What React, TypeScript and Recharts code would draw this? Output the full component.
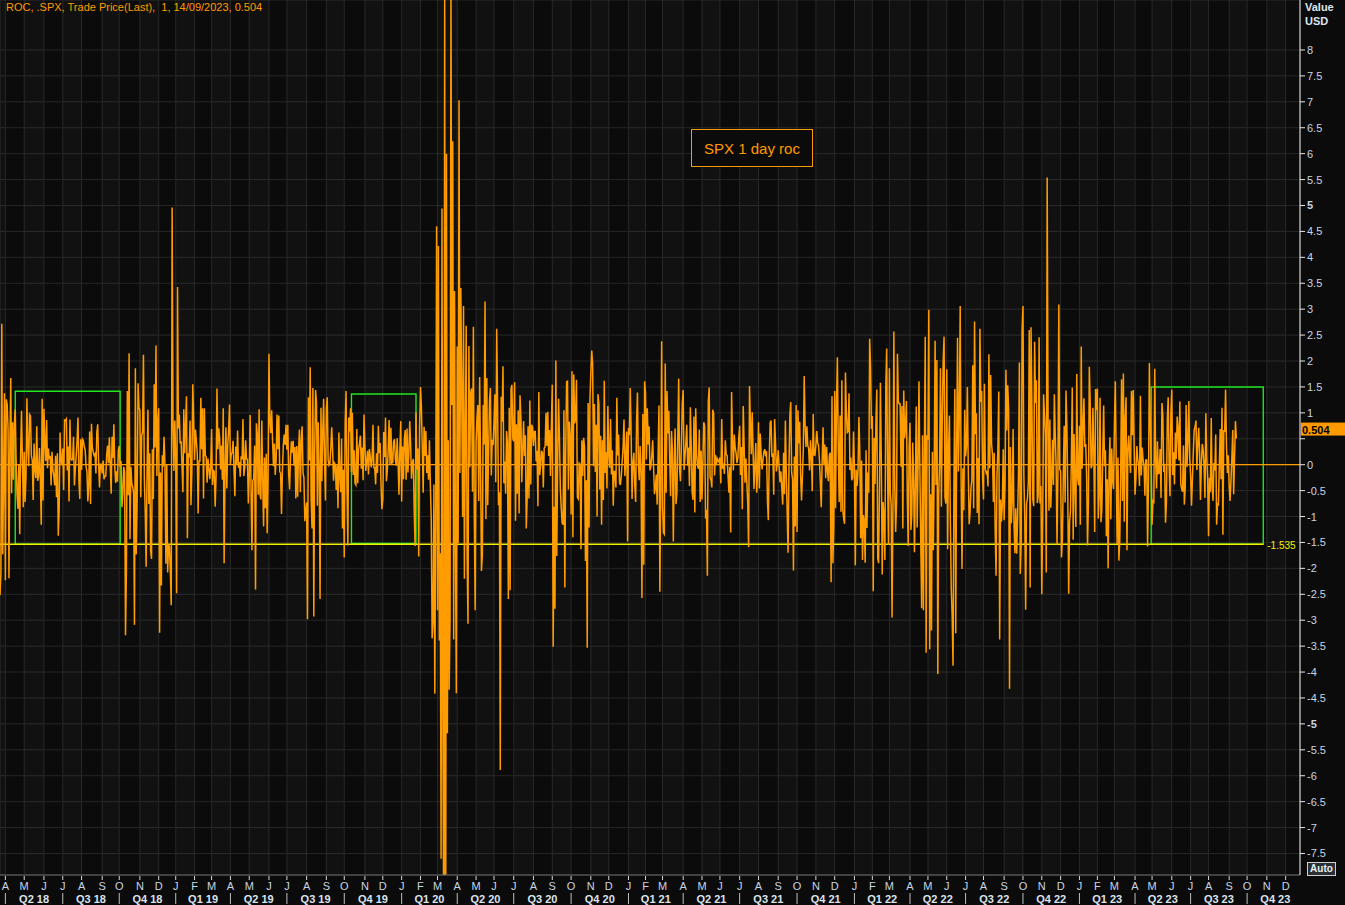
import React from 'react';
import {
  LineChart,
  Line,
  XAxis,
  YAxis,
  CartesianGrid,
  ReferenceLine,
  ReferenceArea,
  ReferenceDot,
} from 'recharts';

// Daily 1-day ROC (%) of .SPX, one inner array per month (trading days)
const r2018: number[][] = [
  [-2.52, -2.1, 2.72, -1.73, -0.29, 1.38],
  [-2.23, 1.26, 1.16, 0.69, -2.19, 0.33, 1.67, -0.55, 0.82, -0.29, 0.81, 1.07, 0.08, -0.57, -0.85, 0.01, -1.34, 0.18, 1.04, 0.11, -0.82],
  [0.25, -0.72, -0.23, 1.28, 0.35, -0.03, 0.97, 0.94, 0.17, 0.09, -0.68, 0.41, -0.09, -0.26, 0.74, -0.31, -0.22, 0.32, -0.24, -1.16, 1.27, -0.69],
  [1.08, 0.45, 0.07, 0.86, -0.07, 0.31, 0.11, 0.17, -0.4, 0.25, -0.1, -0.21, -0.4, 0.17, -0.63, 0.22, -1.37, -0.86, 0.62, 0.08, -0.01],
  [0.31, -0.49, 0.86, 0.85, 0.88, -0.11, 0.35, -0.71, 0.87, 0.11, 0.09, 0.1, 0.54, -0.4, -0.09, 0.18, 0.48, 0.91, -0.3, -0.66, 0.49],
  [-0.1, 0.49, 0.46, 0.35, 0.28, -0.03, -0.14, -0.71, -0.4, 0.64, -0.76, 0.79, 0.33, 0.24, 0.18, 0.21, -0.17, 0.62, 0.78, 0.03, -0.44, 0.01, 0.01],
  [-0.17, 0.08, -0.28, -0.22, -0.22, 0.19, 0.37, 0.03, 0.53, -0.03, -0.56, 0.54, 0.13, 0.78, -0.04, -0.35, -0.13, -0.33, 0.28],
  [0.36, -0.04, 0.07, -0.82, -0.55, -0.04, -0.14, -3.29, -2.06, 1.42, -0.59, 2.15, -1.44, -0.04, -0.36, -0.43, -0.55, -3.09, 1.86, -1.73, -0.66, 1.57, 1.09],
  [1.06, -0.63, 0.56, 0.63, 2.12, -0.25, -0.92, -1.97, -0.15, 1.06, -0.76, 0.22, -1.66, -1.82, 0.3, -0.66, 1.55, 0.33, 2.3, -0.22, 0.82],
  [1.09, -3.24, -0.15, -2.33, 0.18, -0.04, 0.54, -0.02, -1.91, 0.01, -2.08, -1.54, -1.58, -2.06, -2.71, 4.96, 0.86, -0.12, 0.85],
];

const r2019: number[][] = [
  [0.13, -2.48, 3.43, 0.7, 0.97, 0.41, 0.45, -0.01, -0.53, 1.07, 0.22, 0.76, 1.32, -1.42, 0.22, 0.14, 0.85, -0.78, -0.15, 1.55, 0.86],
  [0.09, 0.68, 0.47, 0.22, -0.94, 0.07, 0.07, 1.29, 0.3, 1.09, -0.65, 1.09, 0.18, 0.15, -0.35, 0.12, -0.08, -0.28, -0.05],
  [0.69, -0.39, -0.11, -0.13, -0.81, -0.21, 1.47, 0.3, 0.7, 0.5, -0.09, 0.37, -0.29, 1.09, -1.9, -0.08, 0.72, -0.46, 0.36, 0.67, 1.16],
  [0.01, 0.21, 0.23, 0.46, -0.11, -0.61, 0.35, 0.0, 0.66, -0.06, 0.05, -0.23, 0.16, 0.1, 0.88, -0.22, -0.04, 0.47, 0.11, 0.1, -0.75],
  [-0.21, 0.96, -0.45, -1.65, -0.3, -0.28, 0.37, -2.41, 0.8, 0.58, -0.58, 1.07, -0.58, -0.67, 0.85, -0.28, -1.19, 0.14, -0.84, 0.21, -1.32, -0.28],
  [2.14, 0.82, 0.61, 1.05, 0.47, -0.03, 0.41, -0.2, 0.09, 0.97, 0.3, 0.95, -0.13, -0.17, -0.95, -0.12, 0.38, 0.58, 0.38, 0.77],
  [0.29, 0.77, -0.18, -0.48, 0.12, 0.45, 0.23, 0.46, -0.02, 0.34, -0.65, 0.36, -0.62, 0.28, 0.68, -0.53, 0.47, 0.74, -0.16, -0.26, -1.09, -0.9],
  [-0.73, -2.98, 1.3, 0.08, 1.88, -0.66, -1.23, 1.48, -2.93, 0.25, 1.44, 1.21, -0.79, 0.82, -0.05, -2.59, 1.1, -0.32, 0.65, 1.27, 0.06, -0.69],
  [1.08, 1.3, 0.09, -0.01, 0.03, 0.32, 0.72, 0.29, -0.31, 0.03, 0.0, -0.49, -0.01, -0.84, 0.62, -0.24, -0.53, 0.5, -1.23, -0.1],
  [-1.79, 0.8, 1.42, -0.45, -1.56, 0.91, 0.64, 1.09, -0.14, 1.0, -0.2, 0.28, -0.36, -0.39, 0.69, -0.36, 0.3, 0.41, 0.56, -0.08, 0.33, -0.3, 0.97],
  [0.37, -0.12, 0.07, 0.27, -0.19, 0.3, 0.16, -0.05, 0.08, 0.77, -0.06, -0.06, -0.38, 0.22, -0.16, 0.75, 0.22, 0.42, -0.4, -0.86],
  [-0.66, 0.63, 0.15, 0.91, -0.32, -0.11, 0.29, 0.86, 0.01, 0.71, 0.03, 0.04, 0.45, 0.49, 0.09, -0.02, 0.51, 0.03, -0.58, 0.29, 0.84],
];

const r2020: number[][] = [
  [-0.71, 0.35, -0.28, 0.49, 0.67, -0.29, 0.7, -0.15, 0.19, 0.84, 0.39, -0.27, 0.03, 0.11, -0.9, -1.57, 1.01, -0.09, 0.31, -1.77, 0.73],
  [1.5, 1.13, 0.33, -0.54, 0.73, 0.17, 0.65, -0.16, 0.18, -0.29, 0.47, -0.38, -1.05, -3.35, -3.03, -0.38, -4.42, -0.82, 4.6],
  [-2.81, 4.22, -3.39, -1.71, -7.6, 4.94, -4.89, -9.51, 9.29, -11.98, 6.0, -5.18, 0.47, -4.34, -2.93, 9.38, 1.15, 6.24, -3.37, 3.35, -1.6, -4.41],
  [2.28, -1.51, 7.03, -0.16, 3.41, 1.45, -1.01, 3.06, -2.2, 0.58, 2.68, -1.79, -3.07, 2.29, -0.05, 1.39, 1.47, -0.52, 2.66, -0.92, -2.81],
  [0.42, 0.9, 1.15, -0.7, 1.69, 0.02, -2.05, -1.75, 1.15, 0.39, 3.15, -1.05, 1.67, -0.78, 0.24, 1.23, 1.48, -0.21, 0.48, 0.38],
  [0.82, 1.36, -0.34, 2.62, 1.2, -0.78, -0.53, -5.89, 1.31, 0.83, 1.9, -0.36, 0.06, -0.56, 0.65, 0.43, -2.59, 1.1, -2.42, 1.47, 1.54, 0.5],
  [0.45, 1.59, -1.08, 0.78, -0.56, 1.05, -0.94, 1.34, 0.91, -0.34, 0.28, 0.84, 0.17, 0.57, -1.23, -0.62, 0.74, -0.65, 1.24, -0.38, 0.77, 0.72],
  [0.36, 0.64, 0.64, 0.06, 0.27, -0.8, 1.4, -0.2, -0.02, 0.27, 0.23, -0.44, 0.32, 0.34, 1.0, 0.36, 1.02, 0.17, 0.67, -0.22, 0.75],
  [1.54, -3.51, -0.81, -2.78, 2.01, -1.76, 0.05, 1.27, 0.52, -0.46, -0.84, -1.12, -1.16, 1.05, -2.37, 0.3, 1.6, 1.61, -0.48, 0.83, 0.53],
  [-0.96, 1.8, -1.4, 1.74, 0.8, 0.88, 1.64, -0.63, -0.66, 0.03, 0.01, -1.63, 0.47, -0.22, 0.52, 0.34, -1.86, -0.3, -3.53, 1.19, -1.21, 1.23],
  [1.78, 2.2, 1.95, -0.03, 1.17, -0.14, 0.77, -1.0, 1.36, 1.16, -0.48, 0.56, -1.16, 0.47, -0.68, 1.62, -0.16, 0.24, -0.46, 1.13],
  [0.18, -0.06, 0.88, -0.19, 0.28, -0.79, -0.13, -0.13, -0.44, 1.29, 0.18, 0.58, -0.35, -0.39, -0.21, 0.07, 0.35, 0.87, -0.22, 0.13, 0.64, -1.48],
];

const r2021: number[][] = [
  [0.71, 0.57, 1.48, 0.55, -0.66, 0.04, 0.23, -0.38, -0.72, 0.81, 1.39, 0.03, -0.3, 0.36, -0.15, -2.57, 0.98, -1.93, 1.61],
  [1.39, 0.1, 1.09, 0.39, 0.74, -0.11, -0.03, 0.17, 0.47, -0.06, -0.57, -0.44, -0.19, -0.77, 0.13, 1.14, -2.45, -0.48, 2.38],
  [-0.81, -1.31, -1.34, 1.95, -0.54, 1.42, 0.6, 1.04, 0.1, -0.61, 0.65, 0.29, -1.48, -0.06, 0.7, -0.76, -0.55, 0.52, 1.66, -0.09, -0.32, 0.36, 1.18],
  [1.44, -0.1, 0.15, 0.42, 0.77, -0.02, 0.33, -0.41, 1.11, 0.36, -0.53, -0.68, 0.93, -0.92, 1.09, 0.18, -0.02, -0.08, 0.68, -0.72, 0.27],
  [-0.67, 0.07, 0.82, 0.74, -1.04, -0.87, -2.14, 1.22, 1.49, -0.25, -0.29, -0.44, 1.06, 0.99, -0.21, 0.19, -0.01, 0.12, 0.08, 0.05],
  [0.14, -0.36, 0.88, -0.08, 0.02, -0.18, 0.47, 0.19, 0.18, -0.2, -0.54, -0.04, -1.31, 1.4, 0.51, -0.11, 0.58, 0.33, 0.23, 0.03, 0.13, 0.52],
  [0.75, -0.2, 0.34, -0.86, 1.13, 0.35, -0.35, 0.12, -0.33, -0.75, -1.59, 1.52, 0.82, 0.2, 1.01, 0.24, -0.47, -0.02, 0.42, -0.54, -0.18],
  [0.82, -0.46, 0.6, 0.17, -0.09, 0.1, 0.25, 0.3, 0.16, 0.26, -0.71, -1.07, 0.13, 0.81, 0.85, 0.15, 0.22, -0.58, 0.88, 0.43, -0.13, 0.03],
  [0.28, -0.03, -0.34, -0.13, -0.46, -0.77, 0.23, -0.57, 0.85, -0.16, -0.91, -1.7, -0.08, 0.95, 1.21, -0.15, -0.28, -2.04, 0.16, -1.19, 1.15],
  [-1.3, 1.05, 0.41, 0.83, -0.19, -0.69, -0.24, 0.3, 1.71, 0.75, 0.34, 0.74, 0.37, 0.3, -0.11, 0.47, 0.18, -0.51, 0.98, 0.19, 0.18],
  [0.37, 0.65, 0.42, 0.37, 0.09, -0.35, -0.82, 0.06, 0.72, 0.0, 0.39, -0.26, 0.34, -0.14, -0.32, 0.17, 0.23, -2.27, 1.32, -1.9, -1.18],
  [1.42, -0.84, 1.17, 2.07, 0.31, -0.72, 0.95, -0.91, 1.63, -0.87, -1.03, -1.14, 1.78, 1.02, 0.62, 0.64, 1.38, -0.1, 0.14, -0.3, -0.26, 0.64],
];

const r2022: number[][] = [
  [-0.06, -1.94, -0.1, -0.41, -0.14, 0.92, 0.28, -1.42, 0.08, -1.84, -0.97, -1.1, -1.89, 0.28, -1.22, -0.15, -0.54, 2.43, 1.89, 0.69],
  [0.94, -2.44, 0.52, -0.37, 0.84, 1.45, -1.81, -1.9, -0.38, 1.58, 0.09, -2.12, -0.72, -1.01, -1.84, 1.5, 2.24, -0.24, -1.55],
  [1.86, -0.53, -0.79, -2.95, -0.72, 2.57, -0.43, -1.3, -0.74, 2.14, 1.23, 1.17, 1.17, -0.04, 1.13, -1.23, 1.43, 0.51, 0.71, 1.23, -0.63, -1.57, 0.34],
  [0.81, -1.26, -0.97, 0.43, -0.27, -1.69, -0.34, 1.12, -1.21, -0.02, 1.61, -0.06, -1.48, -2.77, 0.57, -2.81, 0.21, 2.47, -3.63, 0.57],
  [0.48, 2.99, -3.56, -0.57, -3.2, 0.25, -1.65, -0.13, 2.39, -0.39, 2.02, -4.04, -0.58, 0.01, 1.86, -0.81, 0.95, 1.99, 2.47, -0.63, -0.75],
  [1.84, -1.63, 0.31, 0.95, -1.08, -2.38, -2.91, -3.88, -0.38, 1.46, -3.25, 0.22, 2.45, -0.13, 0.95, 3.06, -0.3, -2.01, -0.07, -0.88, 1.06],
  [0.16, 0.36, 1.5, -0.08, -1.15, -0.92, -0.45, -0.3, 1.92, -0.84, 2.76, 0.59, 0.99, -0.93, 0.13, -1.15, 2.62, 1.21, 1.42, -0.28],
  [-0.67, 1.56, -0.08, -0.16, -0.12, -0.42, 2.13, -0.07, 1.73, 0.4, 0.19, -0.72, 0.23, -1.29, -2.14, -0.22, 0.29, 1.41, -3.37, -0.67, -1.1, -0.78, 0.3],
  [-1.07, -0.41, 1.83, 0.66, 1.53, 1.06, -4.32, 0.34, -1.13, -0.72, 0.69, -1.13, -1.71, -0.84, -1.72, -1.03, -0.21, 1.97, -2.11, -1.51, 2.59],
  [3.06, -0.2, -1.02, -2.8, -0.75, -0.65, -0.33, 2.6, -2.37, 2.65, 1.14, -0.67, -0.8, 2.37, 1.19, 1.63, -0.74, -0.61, 2.46, -0.75, -0.41],
  [-2.5, -1.06, 1.36, 0.96, 0.56, -2.08, 5.54, 0.92, -0.89, 0.87, -0.83, -0.31, 0.48, -0.39, 1.36, 0.59, -0.03, -1.54, -0.16, 3.09, -0.09],
  [-0.12, -1.79, -1.44, -0.19, 0.75, -0.73, 1.43, 0.73, -0.61, -2.49, -1.11, -0.9, 0.1, 1.49, -1.45, 0.59, -0.4, -1.2, 1.75, -0.25, -0.4],
];

const r2023: number[][] = [
  [0.75, -1.16, 2.28, -0.08, 0.7, 1.28, 0.34, 0.4, -0.2, -1.56, -0.76, 1.89, 1.19, -0.07, -0.02, 1.1, 0.25, -1.3, 1.46, 1.05],
  [1.47, -1.04, -0.61, 1.29, -1.11, -0.88, 0.22, 1.14, -0.03, 0.28, -1.38, -0.28, -2.0, -0.16, 0.53, -1.05, 0.31, -0.3, -0.47],
  [0.76, 1.61, 0.07, -1.53, 0.14, -1.85, -1.45, -0.15, 1.65, -0.7, 1.76, -1.1, 0.89, 1.3, -1.65, 0.3, 0.56, 0.17, -0.16, 1.42, 0.57, 1.44, 0.37],
  [-0.58, -0.25, 0.36, 0.1, -0.0, -0.41, 1.33, -0.21, 0.33, 0.09, -0.01, -0.6, 0.09, 0.09, -1.58, -0.38, 1.96, 0.83, -0.04],
  [-1.16, -0.7, -0.72, 1.85, 0.05, -0.46, 0.45, -0.17, -0.16, 0.3, -0.64, 1.19, 0.94, -0.14, 0.02, -1.12, -0.73, 0.88, 1.3, 0.0, -0.61, 0.99],
  [1.45, -0.2, 0.24, -0.38, 0.62, 0.11, 0.93, 0.69, 0.08, 1.22, -0.37, -0.47, -0.52, 0.37, -0.77, -0.45, 1.15, -0.04, 0.45, 1.23, 0.12],
  [-0.2, -0.79, -0.29, 0.24, 0.67, 0.74, 0.85, -0.1, 0.39, 0.71, 0.24, -0.68, 0.03, 0.4, 0.28, -0.02, -0.64, 0.99, 0.15, -0.27],
  [-1.38, -0.25, -0.53, 0.9, -0.42, -0.7, 0.03, -0.11, 0.58, -1.16, -0.76, -0.77, -0.01, 0.69, -0.28, 1.1, -1.35, 0.67, 0.63, 1.45, 0.38, -0.16, 0.18],
  [-0.42, -0.7, -0.32, 0.14, 0.67, -0.57, 0.12, 0.84, 0.504],
];

// Trading days per calendar month, from Mar 2018 (partial, from 22 Mar) to Dec 2023
const monthLengths = [
  6, 21, 22, 21, 21, 23, 19, 23, 21, 19,
  21, 19, 21, 21, 22, 20, 22, 22, 20, 23, 20, 21,
  21, 19, 22, 21, 20, 22, 22, 21, 21, 22, 20, 22,
  19, 19, 23, 21, 20, 22, 21, 22, 21, 21, 21, 22,
  20, 19, 23, 20, 21, 21, 20, 23, 21, 21, 21, 21,
  20, 19, 23, 19, 22, 21, 20, 23, 20, 22, 21, 20,
];
const START_MONTH = 2; // March
const START_YEAR = 2018;
const MONTH_LETTERS = ['J', 'F', 'M', 'A', 'M', 'J', 'J', 'A', 'S', 'O', 'N', 'D'];

const yTicks = [
  -7.5, -7, -6.5, -6, -5.5, -5, -4.5, -4, -3.5, -3, -2.5, -2, -1.5, -1, -0.5, 0,
  0.5, 1, 1.5, 2, 2.5, 3, 3.5, 4, 4.5, 5, 5.5, 6, 6.5, 7, 7.5, 8,
];
// tick labels hidden behind the last-value badge
const hiddenYLabels = [0.5];

// Annotations drawn on the chart (in data units: trading-day index, %)
const boxes = [
  { x1: 17, x2: 134, y1: -1.535, y2: 1.416 },
  { x1: 392, x2: 464, y1: -1.52, y2: 1.364 },
  { x1: 1284, x2: 1409, y1: -1.535, y2: 1.5 },
];
const supportLevel = -1.535;
const supportEnd = 1409;
const lastValue = 0.504;

const X_MAX = 1450;
const Y_MIN = -7.915;
const Y_MAX = 8.964;

const roc = [...r2018, ...r2019, ...r2020, ...r2021, ...r2022, ...r2023].flat();
const data = roc.map((v, i) => ({ i, v }));

type MonthInfo = { idx: number; month: number; year: number; len: number };
const allMonths: MonthInfo[] = [];
{
  let acc = 0;
  monthLengths.forEach((len, k) => {
    const m = (START_MONTH + k) % 12;
    const y = START_YEAR + Math.floor((START_MONTH + k) / 12);
    allMonths.push({ idx: acc, month: m, year: y, len });
    acc += len;
  });
}
const visibleMonths = allMonths.filter((m) => m.idx > 0 && m.idx <= X_MAX);
const monthTickValues = visibleMonths.map((m) => m.idx);
const quarters = allMonths
  .map((m, k) => ({ m, k }))
  .filter(({ m }) => m.month % 3 === 0)
  .map(({ m, k }) => {
    const len = allMonths.slice(k, k + 3).reduce((s, q) => s + q.len, 0);
    return {
      center: m.idx + len / 2,
      label: `Q${m.month / 3 + 1} ${String(m.year).slice(2)}`,
    };
  });
const quarterTickValues = quarters.map((q) => q.center);
const bands = allMonths.filter((m) => m.month % 2 === 0);

const FONT = '"Liberation Sans", Arial, sans-serif';
const AXIS_TEXT = '#c9d5e2';
const ORANGE = '#ff9c00';

const MonthTick = (props: any) => {
  const { x, y, index } = props;
  const m = visibleMonths[index];
  if (!m) return null;
  return (
    <g>
      <line x1={x} x2={x} y1={y + 1} y2={y + 5} stroke="#d8d8d8" />
      <text x={x} y={y + 15} textAnchor="middle" fill={AXIS_TEXT} fontSize={11} fontFamily={FONT}>
        {MONTH_LETTERS[m.month]}
      </text>
      {m.month % 3 === 0 && (
        <line x1={x} x2={x} y1={y + 18} y2={y + 29} stroke="#bfbfbf" />
      )}
    </g>
  );
};

const QuarterTick = (props: any) => {
  const { x, y, index } = props;
  const q = quarters[index];
  if (!q) return null;
  return (
    <text x={x} y={y + 13} textAnchor="middle" fill="#dbe3ec" fontSize={11} fontWeight={700} fontFamily={FONT}>
      {q.label}
    </text>
  );
};

const YTick = (props: any) => {
  const { x, y, payload } = props;
  const v = payload.value as number;
  if (hiddenYLabels.includes(v)) return null;
  return (
    <text x={x} y={y + 4} textAnchor="start" fill={AXIS_TEXT} fontSize={11} fontWeight={Math.abs(v) === 5 ? 700 : 400} fontFamily={FONT}>
      {String(v)}
    </text>
  );
};

const LastBadge = (props: any) => {
  const vb = props.viewBox || {};
  const x = vb.x ?? 0;
  const y = vb.y ?? 0;
  return (
    <g>
      <rect x={x + 1} y={y - 16} width={45} height={13} fill="#ff9900" />
      <text x={x + 2} y={y - 5} fill="#000" fontSize={11} fontWeight={700} fontFamily={FONT}>
        {lastValue.toFixed(3)}
      </text>
    </g>
  );
};

const SupportLabel = (props: any) => {
  const vb = props.viewBox || {};
  const x = vb.x ?? 0;
  const y = vb.y ?? 0;
  return (
    <text x={x + 4} y={y + 5} fill="#f2f200" fontSize={10} fontFamily={FONT}>
      {supportLevel.toFixed(3)}
    </text>
  );
};

export default function App() {
  return (
    <div
      style={{
        position: 'absolute',
        left: 0,
        top: 0,
        width: 1345,
        height: 905,
        background: '#0b0b0b',
        overflow: 'hidden',
        fontFamily: FONT,
      }}
    >
      <LineChart width={1345} height={905} data={data} margin={{ top: 0, right: 0, bottom: 0, left: 0 }}>
        {bands.map((b) => (
          <ReferenceArea
            key={`band-${b.idx}`}
            xAxisId="m"
            x1={b.idx}
            x2={Math.min(b.idx + b.len, X_MAX)}
            y1={Y_MIN}
            y2={Y_MAX}
            fill="#ffffff"
            fillOpacity={0.028}
            stroke="none"
            ifOverflow="hidden"
          />
        ))}
        <CartesianGrid xAxisId="m" stroke="#262626" strokeWidth={1} />
        <XAxis
          xAxisId="m"
          dataKey="i"
          type="number"
          domain={[0, X_MAX]}
          allowDataOverflow
          ticks={monthTickValues}
          interval={0}
          height={15}
          tickSize={0}
          tickMargin={0}
          tickLine={false}
          axisLine={{ stroke: '#6a6a6a' }}
          tick={<MonthTick />}
        />
        <XAxis
          xAxisId="q"
          dataKey="i"
          type="number"
          domain={[0, X_MAX]}
          allowDataOverflow
          ticks={quarterTickValues}
          interval={0}
          height={15}
          tickSize={0}
          tickMargin={0}
          tickLine={false}
          axisLine={false}
          tick={<QuarterTick />}
        />
        <YAxis
          orientation="right"
          width={45}
          type="number"
          domain={[Y_MIN, Y_MAX]}
          allowDataOverflow
          ticks={yTicks}
          interval={0}
          tickSize={5}
          tickMargin={2}
          tickLine={{ stroke: '#e6e6e6' }}
          axisLine={{ stroke: '#f0f0f0' }}
          tick={<YTick />}
        />
        <ReferenceLine xAxisId="m" y={0} stroke={ORANGE} strokeWidth={1.3} />
        <ReferenceLine
          xAxisId="m"
          segment={[
            { x: 0, y: supportLevel },
            { x: supportEnd, y: supportLevel },
          ]}
          stroke="#f0f000"
          strokeWidth={1.3}
        />
        {boxes.map((b, k) => (
          <ReferenceArea
            key={`box-${k}`}
            xAxisId="m"
            x1={b.x1}
            x2={b.x2}
            y1={b.y1}
            y2={b.y2}
            fill="none"
            fillOpacity={0}
            stroke="#22e622"
            strokeWidth={1.4}
          />
        ))}
        <Line
          xAxisId="m"
          type="linear"
          dataKey="v"
          stroke={ORANGE}
          strokeWidth={1.5}
          dot={false}
          activeDot={false}
          isAnimationActive={false}
        />
        <ReferenceDot xAxisId="m" x={supportEnd} y={supportLevel} r={0} fill="none" stroke="none" label={SupportLabel} />
        <ReferenceDot xAxisId="m" x={X_MAX} y={lastValue} r={0} fill="none" stroke="none" label={LastBadge} />
      </LineChart>

      <div
        style={{
          position: 'absolute',
          left: 6,
          top: 1,
          fontSize: 11,
          color: '#ff9a00',
          whiteSpace: 'pre',
          lineHeight: '13px',
        }}
      >
        {'ROC, .SPX, Trade Price(Last),  1, 14/09/2023, 0.504'}
      </div>
      <div
        style={{
          position: 'absolute',
          left: 1305,
          top: 0,
          fontSize: 11,
          fontWeight: 700,
          color: '#dde5ee',
          lineHeight: '14px',
        }}
      >
        <div>Value</div>
        <div>USD</div>
      </div>
      <div
        style={{
          position: 'absolute',
          left: 691,
          top: 129,
          width: 120,
          height: 36,
          border: '1px solid #ff9900',
          color: '#ff9900',
          fontSize: 15,
          display: 'flex',
          alignItems: 'center',
          justifyContent: 'center',
          background: '#0b0b0b',
        }}
      >
        SPX 1 day roc
      </div>
      <div
        style={{
          position: 'absolute',
          left: 1307,
          top: 862,
          width: 27,
          height: 12,
          border: '1px solid #d0d0d0',
          color: '#e8eef5',
          background: '#2a2f36',
          fontSize: 10,
          fontWeight: 700,
          lineHeight: '12px',
          textAlign: 'center',
        }}
      >
        Auto
      </div>
    </div>
  );
}
